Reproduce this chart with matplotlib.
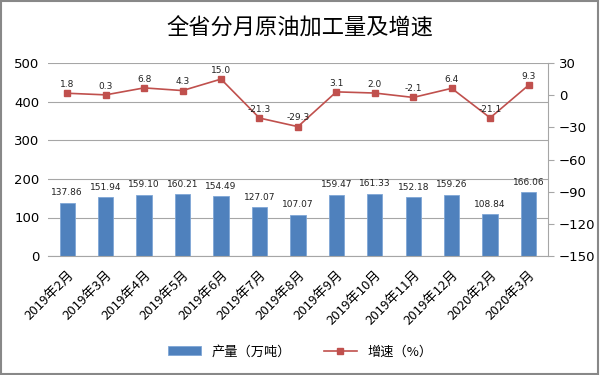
import matplotlib
matplotlib.use('Agg')
import matplotlib.pyplot as plt
import numpy as np

plt.rcParams['font.family'] = ['Noto Sans CJK SC', 'DejaVu Sans']

months = ['2019年2月', '2019年3月', '2019年4月', '2019年5月', '2019年6月', '2019年7月',
          '2019年8月', '2019年9月', '2019年10月', '2019年11月', '2019年12月',
          '2020年2月', '2020年3月']
output = [137.86, 151.94, 159.10, 160.21, 154.49, 127.07, 107.07,
          159.47, 161.33, 152.18, 159.26, 108.84, 166.06]
growth = [1.8, 0.3, 6.8, 4.3, 15.0, -21.3, -29.3, 3.1, 2.0, -2.1, 6.4, -21.1, 9.3]

bar_color = '#4F81BD'
line_color = '#C0504D'
grid_color = '#A6A6A6'

fig = plt.figure(figsize=(6, 3.75), dpi=100)
fig.patches.append(plt.Rectangle((0.002, 0.003), 0.995, 0.994, transform=fig.transFigure,
                                 fill=False, edgecolor='#888888', linewidth=1.5))

ax = fig.add_axes([0.08, 0.317, 0.833, 0.515])
x = np.arange(len(months))

bars = ax.bar(x, output, width=0.4, color=bar_color, edgecolor='#7FA7D6', linewidth=0.6,
              label='产量（万吨）', zorder=2)
for xi, v in zip(x, output):
    ax.text(xi, v + 14, f'{v:.2f}', ha='center', va='bottom', fontsize=6.5,
            family='DejaVu Sans', color='#222222')

ax.set_ylim(0, 500)
ax.set_yticks(range(0, 501, 100))
ax.set_xlim(-0.5, len(months) - 0.5)
ax.yaxis.grid(True, color=grid_color, linewidth=0.8, zorder=0)
ax.set_axisbelow(True)
for s in ['top', 'left', 'right']:
    ax.spines[s].set_visible(False)
ax.spines['bottom'].set_color(grid_color)
ax.tick_params(axis='y', length=0, labelsize=9.5, pad=6)
ax.tick_params(axis='x', length=0, labelsize=9.5, pad=9)
ax.set_xticks(x)
ax.set_xticklabels(months, rotation=45, ha='right', rotation_mode='anchor')
for lbl in ax.get_yticklabels():
    lbl.set_family('DejaVu Sans')

ax2 = ax.twinx()
line, = ax2.plot(x, growth, color=line_color, marker='s', markersize=4.5,
                 linewidth=1.2, label='增速（%）', zorder=3)
for xi, v in zip(x, growth):
    ax2.text(xi, v + 4, f'{v:.1f}', ha='center', va='bottom', fontsize=6.5,
             family='DejaVu Sans', color='#222222')
ax2.set_ylim(-150, 30)
ax2.set_yticks(range(-150, 31, 30))
for s in ['top', 'left', 'bottom']:
    ax2.spines[s].set_visible(False)
ax2.spines['right'].set_color(grid_color)
ax2.tick_params(axis='y', length=4, color=grid_color, labelsize=9.5, pad=4)
for lbl in ax2.get_yticklabels():
    lbl.set_family('DejaVu Sans')

fig.text(0.5, 0.925, '全省分月原油加工量及增速', ha='center', va='center', fontsize=16)

fig.legend([bars, line], ['产量（万吨）', '增速（%）'], loc='center', ncol=2,
           bbox_to_anchor=(0.5, 0.062), frameon=False, fontsize=9.5,
           handlelength=2.5, columnspacing=2.5)

fig.savefig('out.png', dpi=100)
